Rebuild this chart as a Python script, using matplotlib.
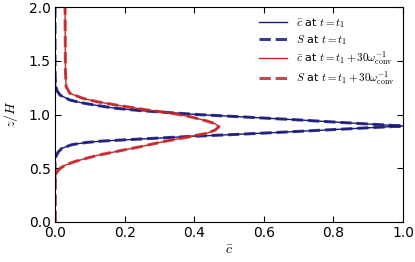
import matplotlib
matplotlib.use("Agg")
import matplotlib.pyplot as plt

plt.rcParams['mathtext.fontset'] = 'cm'
plt.rcParams['font.family'] = ['DejaVu Sans']

# blue profile (t = t1)
z_t1 = [0.0, 0.50, 0.56, 0.59, 0.62, 0.65, 0.686, 0.72, 0.74, 0.753, 0.772, 0.795, 0.815, 0.84, 0.865, 0.893,
        0.925, 0.95, 0.977, 1.00, 1.035, 1.06, 1.085, 1.11, 1.135, 1.18, 1.22, 1.27, 1.35, 1.5, 2.0]
c_t1 = [0.0, 0.0, 0.0, 0.001, 0.004, 0.009, 0.02, 0.049, 0.09, 0.135, 0.245, 0.38, 0.52, 0.68, 0.83, 1.0,
        0.83, 0.70, 0.545, 0.41, 0.25, 0.17, 0.12, 0.075, 0.043, 0.015, 0.006, 0.002, 0.0005, 0.0, 0.0]
S_t1 = c_t1

# red profile (t = t1 + 30/omega)
z_t2 = [0.0, 0.30, 0.40, 0.44, 0.468, 0.50, 0.53, 0.56, 0.59, 0.62, 0.648, 0.675, 0.70, 0.747, 0.79, 0.825,
        0.855, 0.887, 0.915, 0.94, 0.98, 1.01, 1.045, 1.088, 1.12, 1.15, 1.197, 1.26, 1.4, 2.0]
c_t2 = [0.0, 0.0, 0.001, 0.003, 0.006, 0.015, 0.03, 0.055, 0.087, 0.122, 0.164, 0.205, 0.245, 0.31, 0.38, 0.436,
        0.46, 0.471, 0.46, 0.436, 0.388, 0.34, 0.26, 0.177, 0.12, 0.081, 0.043, 0.032, 0.030, 0.029]
S_t2 = c_t2

labels = [r'$\bar{c}$ at $t=t_1$', r'$S$ at $t=t_1$',
          r'$\bar{c}$ at $t=t_1+30\omega_{\rm conv}^{-1}$',
          r'$S$ at $t=t_1+30\omega_{\rm conv}^{-1}$']

blue = '#1a1a7a'
red = '#c4262b'

fig = plt.figure(figsize=(4.15, 2.62), dpi=100)
ax = fig.add_axes([0.1325, 0.1527, 0.8385, 0.8203])

ax.plot(c_t1, z_t1, color=blue, lw=1.0, label=labels[0])
ax.plot(S_t1, z_t1, color=blue, lw=2.2, ls='--', alpha=0.85, label=labels[1])
ax.plot(c_t2, z_t2, color=red, lw=1.0, label=labels[2])
ax.plot(S_t2, z_t2, color=red, lw=2.2, ls='--', alpha=0.85, label=labels[3])

ax.set_xlim(0, 1.0)
ax.set_ylim(0, 2.0)
ax.set_xticks([0.0, 0.2, 0.4, 0.6, 0.8, 1.0])
ax.set_yticks([0.0, 0.5, 1.0, 1.5, 2.0])
ax.tick_params(direction='in', top=True, right=True, length=4, width=0.8, labelsize=10, pad=3)
ax.set_xlabel(r'$\bar{c}$', fontsize=10, labelpad=2)
ax.set_ylabel(r'$z/H$', fontsize=10, labelpad=6)
ax.legend(loc='upper right', frameon=False, fontsize=8, handlelength=2.5, labelspacing=0.25,
          borderaxespad=0.4)

fig.savefig('out.png', dpi=100)
